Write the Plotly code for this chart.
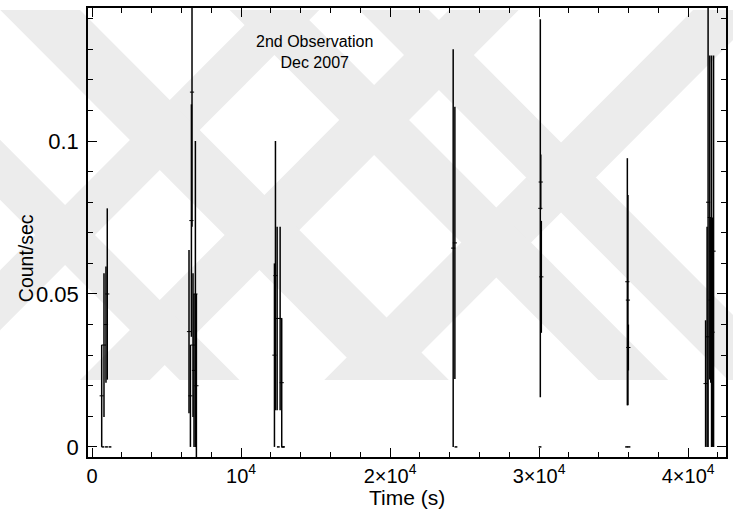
import plotly.graph_objects as go

# Light curve of the second observation: binned count rate with 1-sigma errors
time_s = [649, 803, 936, 1023,
          6508, 6602, 6669, 6709, 6776, 6843, 6936, 7003,
          12241, 12308, 12421, 12622, 12729,
          24234, 24348,
          30080, 30110, 30147,
          35920, 35960, 35987,
          41171, 41271, 41338, 41452, 41518, 41572, 41639, 41706]
rate = [0.0167, 0.0333, 0.040, 0.050,
        0.0377, 0.0167, 0.074, 0.116, 0.0333, 0.025, 0.050, 0.020,
        0.030, 0.056, 0.042, 0.042, 0.021,
        0.065, 0.0667,
        0.078, 0.0866, 0.0556,
        0.054, 0.048, 0.0325,
        0.0207, 0.036, 0.080, 0.075, 0.048, 0.064, 0.0375, 0.064]
rate_err = [0.0167, 0.0235, 0.019, 0.028,
            0.0267, 0.0167, 0.038, 0.044, 0.0235, 0.025, 0.050, 0.030,
            0.030, 0.044, 0.030, 0.030, 0.021,
            0.065, 0.0445,
            0.0618, 0.009, 0.0183,
            0.0404, 0.0344, 0.0075,
            0.0207, 0.036, 0.080, 0.053, 0.027, 0.064, 0.0375, 0.064]

# Empty bins (zero counts)
zero_time = [736, 970, 1204, 12500, 12780, 12850, 24420, 30060, 35870, 36030]
zero_rate = [0, 0, 0, 0, 0, 0, 0, 0, 0, 0]

x_tickvals = [0, 10000, 20000, 30000, 40000]
x_ticktext = ["0", "10<sup>4</sup>", "2×10<sup>4</sup>", "3×10<sup>4</sup>", "4×10<sup>4</sup>"]
y_tickvals = [0, 0.05, 0.1]
y_ticktext = ["0", "0.05", "0.1"]

FONT = "Liberation Sans, Arial, sans-serif"

W, H = 733, 519
ML, MR, MT, MB = 88, 5, 8, 62
PW, PH = W - ML - MR, H - MT - MB


def px(xp):
    return (xp - ML) / PW


def py(yp):
    return (H - MB - yp) / PH


# Light grey diagonal band pattern in the page background
band_color = "#ececec"
y_top, y_bot = 10, 380
up_bands = [(270, 330), (460, 530), (705, 775)]            # x + y = const
down_bands = [(-200, -140), (-10, 70), (220, 290), (350, 420)]  # x - y = const
shapes = []
for c1, c2 in up_bands:
    pts = [(c1 - y_bot, y_bot), (c2 - y_bot, y_bot), (c2 - y_top, y_top), (c1 - y_top, y_top)]
    path = "M " + " L ".join(f"{px(a):.4f},{py(b):.4f}" for a, b in pts) + " Z"
    shapes.append(dict(type="path", path=path, xref="paper", yref="paper",
                       fillcolor=band_color, line=dict(width=0), layer="below"))
for d1, d2 in down_bands:
    pts = [(d1 + y_top, y_top), (d2 + y_top, y_top), (d2 + y_bot, y_bot), (d1 + y_bot, y_bot)]
    path = "M " + " L ".join(f"{px(a):.4f},{py(b):.4f}" for a, b in pts) + " Z"
    shapes.append(dict(type="path", path=path, xref="paper", yref="paper",
                       fillcolor=band_color, line=dict(width=0), layer="below"))

fig = go.Figure()
fig.add_trace(go.Scatter(
    x=time_s, y=rate, mode="markers",
    marker=dict(symbol="line-ew-open", size=3, color="black",
                line=dict(color="black", width=1)),
    error_y=dict(type="data", array=rate_err, visible=True,
                 color="black", thickness=1.5, width=0),
    showlegend=False, hoverinfo="x+y",
))
fig.add_trace(go.Scatter(
    x=zero_time, y=zero_rate, mode="markers",
    marker=dict(symbol="line-ew-open", size=2, color="black",
                line=dict(color="black", width=1.5)),
    showlegend=False, hoverinfo="x+y",
))

axis_common = dict(
    showline=True, linecolor="black", linewidth=1.5, mirror="ticks",
    ticks="inside", ticklen=9, tickwidth=1.3, tickcolor="black",
    showgrid=False, zeroline=False,
)

fig.update_xaxes(
    range=[-270, 42540], tickmode="array",
    tickvals=x_tickvals, ticktext=x_ticktext,
    tickfont=dict(family=FONT, size=20, color="black"),
    minor=dict(ticks="inside", ticklen=5, tickwidth=1.2, tickcolor="black",
               dtick=2000, tick0=0),
    **axis_common,
)
fig.update_yaxes(
    range=[-0.0033, 0.1435], tickmode="array",
    tickvals=y_tickvals, ticktext=y_ticktext,
    tickfont=dict(family=FONT, size=22, color="black"),
    ticklabelstandoff=3,
    minor=dict(ticks="inside", ticklen=5, tickwidth=1.2, tickcolor="black",
               dtick=0.01, tick0=0),
    **axis_common,
)

fig.update_layout(
    width=W, height=H,
    margin=dict(l=ML, r=MR, t=MT, b=MB),
    paper_bgcolor="white", plot_bgcolor="rgba(0,0,0,0)",
    font=dict(family=FONT, color="black"),
    shapes=shapes,
    annotations=[
        dict(text="2nd Observation<br>Dec 2007", x=px(315), y=py(51.5),
             xref="paper", yref="paper", showarrow=False,
             xanchor="center", yanchor="middle",
             font=dict(family=FONT, size=16, color="black"), align="center"),
        dict(text="Count/sec", x=px(26), y=py(258), xref="paper", yref="paper",
             showarrow=False, textangle=-90, xanchor="center", yanchor="middle",
             font=dict(family=FONT, size=19.5, color="black")),
        dict(text="Time (s)", x=px(408), y=py(497), xref="paper", yref="paper",
             showarrow=False, xanchor="center", yanchor="middle",
             font=dict(family=FONT, size=21, color="black")),
    ],
)

fig.write_html("out.html")
